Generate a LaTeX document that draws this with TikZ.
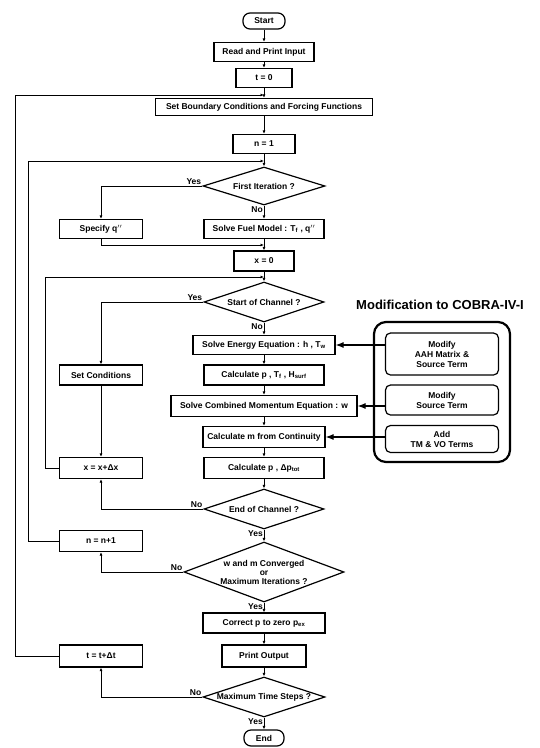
\documentclass[tikz,border=0pt]{standalone}
\usepackage{fontspec}
\setmainfont{Liberation Sans}
\usetikzlibrary{shapes.geometric,arrows.meta}

\begin{document}
\begin{tikzpicture}[x=1pt, y=-1pt,
    font=\fontsize{8.5}{10}\selectfont\bfseries,
    stepbox/.style={draw, line width=1.2pt, minimum height=19pt, inner sep=1pt},
    sidebox/.style={stepbox, minimum width=83pt},
    termbox/.style={draw, line width=1.2pt, rounded corners=7pt, minimum width=42pt, minimum height=16pt},
    query/.style={draw, line width=1.2pt, diamond, aspect=3, inner sep=0pt, align=center},
    modbox/.style={draw, line width=1.2pt, rounded corners=5pt, minimum width=113pt, align=center, inner sep=1pt},
    flow/.style={line width=0.9pt, -{Latex[length=3.5pt,width=3pt]}},
    modarrow/.style={line width=1.1pt, -{Latex[length=8pt,width=6pt]}},
    answer/.style={font=\fontsize{8.5}{9}\selectfont\bfseries, inner sep=1pt}]
  \useasboundingbox (0,0) rectangle (539,748);
  %Main column
  \node[termbox] (start) at (264,21) {Start};
  \node[stepbox, minimum width=100pt] (read) at (264,52) {Read and Print Input};
  \node[stepbox, minimum width=56pt] (t0) at (264,78) {t = 0};
  \node[stepbox, minimum width=217pt, minimum height=17pt] (setbc) at (264,107) {Set Boundary Conditions and Forcing Functions};
  \node[stepbox, minimum width=62pt] (n1) at (264,144) {n = 1};
  \node[query, minimum width=122pt, minimum height=38pt] (first) at (264,186) {First Iteration ?};
  \node[stepbox, minimum width=120pt] (fuel) at (264,229) {Solve Fuel Model : T\textsubscript{f} , q$''$};
  \node[stepbox, minimum width=60pt, minimum height=20pt] (x0) at (264,261) {x = 0};
  \node[query, minimum width=120pt, minimum height=40pt] (startch) at (264,302) {Start of Channel ?};
  \node[stepbox, minimum width=142pt] (energy) at (264,345) {Solve Energy Equation : h , T\textsubscript{w}};
  \node[stepbox, minimum width=120pt, minimum height=20pt] (calcp) at (264,375) {Calculate p , T\textsubscript{f} , H\textsubscript{surf}};
  \node[stepbox, minimum width=186pt, minimum height=21pt] (momentum) at (264,406) {Solve Combined Momentum Equation : w};
  \node[stepbox, minimum width=122pt, minimum height=21pt] (calcm) at (264,437) {Calculate m from Continuity};
  \node[stepbox, minimum width=120pt, minimum height=21pt] (calcdp) at (264,468) {Calculate p , Δp\textsubscript{tot}};
  \node[query, minimum width=120pt, minimum height=40pt] (endch) at (264,509) {End of Channel ?};
  \node[query, minimum width=160pt, minimum height=60pt, aspect=2.67,
        font=\fontsize{8.5}{9}\selectfont\bfseries] (conv) at (264,572) {w and m Converged\\or\\Maximum Iterations ?};
  \node[stepbox, minimum width=122pt, minimum height=20pt] (correct) at (264,623) {Correct p to zero p\textsubscript{ex}};
  \node[stepbox, minimum width=84pt, minimum height=22pt] (print) at (264,656) {Print Output};
  \node[query, minimum width=122pt, minimum height=40pt] (maxt) at (264,697) {Maximum Time Steps ?};
  \node[termbox, minimum width=40pt] (end) at (264,738) {End};
  %Side column
  \node[sidebox] (specify) at (101,229) {Specify q$''$};
  \node[sidebox, minimum height=20pt] (setcond) at (101,375) {Set Conditions};
  \node[sidebox, minimum height=21pt] (xinc) at (101,468) {x = x+Δx};
  \node[sidebox, minimum height=21pt] (ninc) at (101,541) {n = n+1};
  \node[sidebox, minimum height=22pt] (tinc) at (101,656) {t = t+Δt};
  %Joins and rails
  \coordinate (tjoin) at (264,95);
  \coordinate (njoin) at (264,161);
  \coordinate (fjoin) at (264,245);
  \coordinate (xjoin) at (264,277);
  \coordinate (trail) at (15,0);
  \coordinate (nrail) at (28,0);
  \coordinate (xrail) at (45,0);
  %Main flow
  \foreach \a/\b in {start/read, read/t0, t0/setbc, setbc/n1, n1/first, first/fuel,
      fuel/x0, x0/startch, startch/energy, energy/calcp, calcp/momentum, momentum/calcm,
      calcm/calcdp, calcdp/endch, endch/conv, conv/correct, correct/print, print/maxt, maxt/end}
    \draw[flow] (\a) -- (\b);
  %Yes branches
  \draw[flow] (first.west) -| (specify.north);
  \draw[flow] (specify.south) |- (fjoin);
  \draw[flow] (startch.west) -| (setcond.north);
  \draw[flow] (setcond) -- (xinc);
  %No branches
  \foreach \q/\s in {endch/xinc, conv/ninc, maxt/tinc}
    \draw[flow] (\q.west) -| (\s.south);
  %Loops back
  \draw[flow] (xinc.west) -- (xinc.west -| xrail) |- (xjoin);
  \draw[flow] (ninc.west) -- (ninc.west -| nrail) |- (njoin);
  \draw[flow] (tinc.west) -- (tinc.west -| trail) |- (tjoin);
  %Answers
  \node[answer, above left] at (first.west) {Yes};
  \node[answer, below left] at (first.south) {No};
  \node[answer, above left] at (startch.west) {Yes};
  \node[answer, below left] at (startch.south) {No};
  \node[answer, above left] at (endch.west) {No};
  \node[answer, below left] at (endch.south) {Yes};
  \node[answer, above left] at (conv.west) {No};
  \node[answer, below left] at (conv.south) {Yes};
  \node[answer, above left] at (maxt.west) {No};
  \node[answer, below left] at (maxt.south) {Yes};
  %Modification block
  \node[font=\fontsize{13}{15}\selectfont\bfseries] (modtitle) at (440,305) {Modification to COBRA-IV-I};
  \draw[line width=2.2pt, rounded corners=12pt] (374,322) rectangle (510,462);
  \node[modbox, minimum height=42pt] (mod1) at (442,354) {Modify\\AAH Matrix \&\\Source Term};
  \node[modbox, minimum height=30pt] (mod2) at (442,400) {Modify\\Source Term};
  \node[modbox, minimum height=27pt] (mod3) at (442,439) {Add\\TM \& VO Terms};
  \draw[modarrow] (energy.east -| mod1.west) -- (energy.east);
  \draw[modarrow] (momentum.east -| mod2.west) -- (momentum.east);
  \draw[modarrow] (calcm.east -| mod3.west) -- (calcm.east);
\end{tikzpicture}
\end{document}
